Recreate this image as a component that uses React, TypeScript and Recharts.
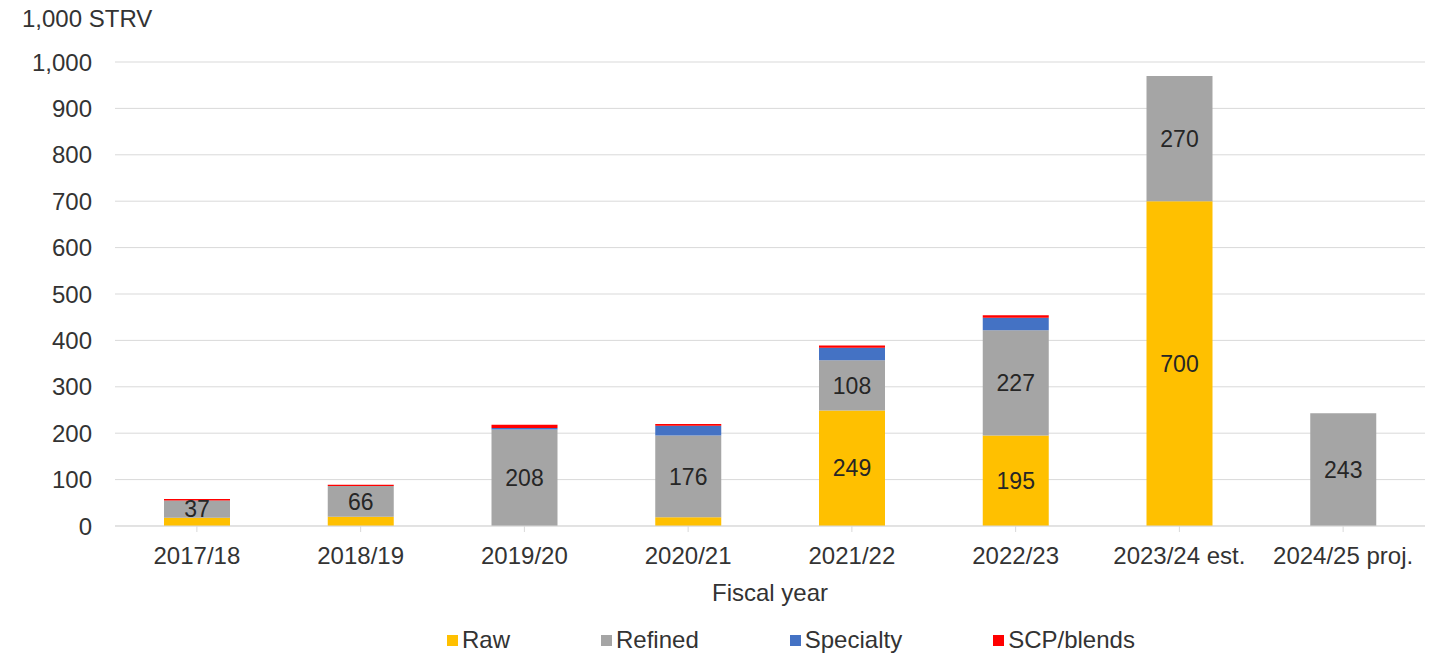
import React from 'react';
import { BarChart, Bar, XAxis, YAxis, CartesianGrid, Legend, LabelList } from 'recharts';

// Fiscal years and shipment volumes (1,000 STRV) by sugar type
const years = ['2017/18', '2018/19', '2019/20', '2020/21', '2021/22', '2022/23', '2023/24 est.', '2024/25 proj.'];
const raw = [18, 20, 0, 19, 249, 195, 700, 0];
const refined = [37, 66, 208, 176, 108, 227, 270, 243];
const specialty = [0, 0, 3, 21, 27, 27, 0, 0];
const scpBlends = [3, 3, 7, 4, 5, 5, 0, 0];
const yTicks = [0, 100, 200, 300, 400, 500, 600, 700, 800, 900, 1000];
const seriesNames = ['Raw', 'Refined', 'Specialty', 'SCP/blends'];

const rows = years.map((year, i) => ({
  year,
  raw: raw[i],
  refined: refined[i],
  specialty: specialty[i],
  scp: scpBlends[i],
}));

const FONT = '"Liberation Sans", Arial, sans-serif';
const TEXT = '#333333';

const fmtRaw = (v: any) => (Number(v) >= 50 ? String(v) : '');
const fmtAll = (v: any) => (Number(v) > 0 ? String(v) : '');

const LegendRow = (props: any) => {
  const payload = props.payload || [];
  const items = seriesNames
    .map((n) => payload.find((p: any) => p.value === n))
    .filter(Boolean);
  return (
    <div style={{ display: 'flex', alignItems: 'center', gap: 91, fontFamily: FONT, fontSize: 24, color: TEXT }}>
      {items.map((it: any) => (
        <div key={it.value} style={{ display: 'flex', alignItems: 'center' }}>
          <span style={{ display: 'inline-block', width: 11, height: 11, background: it.color, marginRight: 4 }} />
          <span style={{ lineHeight: '24px' }}>{it.value}</span>
        </div>
      ))}
    </div>
  );
};

export default function App() {
  return (
    <div style={{ position: 'absolute', left: 0, top: 0, width: 1446, height: 653, background: '#fff', fontFamily: FONT }}>
      <div style={{ position: 'absolute', left: 22, top: 5, fontSize: 24, color: TEXT, lineHeight: '28px' }}>1,000 STRV</div>
      <BarChart
        width={1446}
        height={653}
        data={rows}
        margin={{ top: 62, right: 21, left: 0, bottom: 69 }}
        barSize={66}
      >
        <CartesianGrid vertical={false} stroke="#d9d9d9" strokeWidth={1} />
        <YAxis
          width={115}
          domain={[0, 1000]}
          ticks={yTicks}
          tickFormatter={(v: number) => v.toLocaleString('en-US')}
          axisLine={false}
          tickLine={false}
          tickSize={0}
          tickMargin={23}
          tick={{ fontSize: 24, fill: TEXT, fontFamily: FONT }}
          interval={0}
        />
        <XAxis
          dataKey="year"
          height={58}
          axisLine={{ stroke: '#d9d9d9' }}
          tickLine={{ stroke: '#d9d9d9' }}
          tickSize={6}
          tickMargin={15}
          tick={{ fontSize: 24, fill: TEXT, fontFamily: FONT }}
          interval={0}
          label={{ value: 'Fiscal year', position: 'bottom', offset: 0, fontSize: 24, fill: TEXT, fontFamily: FONT }}
        />
        <Legend
          layout="horizontal"
          verticalAlign="middle"
          align="center"
          content={<LegendRow />}
          wrapperStyle={{ position: 'absolute', left: 447, top: 628, width: 'auto' }}
        />
        <Bar dataKey="raw" name="Raw" stackId="s" fill="#FFC000" isAnimationActive={false}>
          <LabelList dataKey="raw" position="center" formatter={fmtRaw} style={{ fontSize: 23, fill: '#262626', fontFamily: FONT }} />
        </Bar>
        <Bar dataKey="refined" name="Refined" stackId="s" fill="#A5A5A5" isAnimationActive={false}>
          <LabelList dataKey="refined" position="center" formatter={fmtAll} style={{ fontSize: 23, fill: '#262626', fontFamily: FONT }} />
        </Bar>
        <Bar dataKey="specialty" name="Specialty" stackId="s" fill="#4472C4" isAnimationActive={false} />
        <Bar dataKey="scp" name="SCP/blends" stackId="s" fill="#FF0000" isAnimationActive={false} />
      </BarChart>
    </div>
  );
}
